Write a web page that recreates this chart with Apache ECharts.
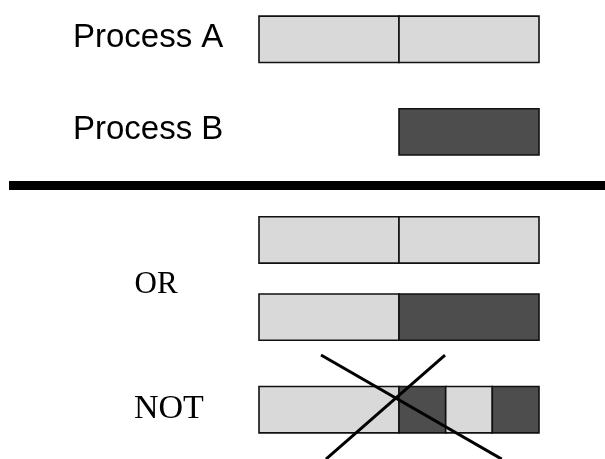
<!DOCTYPE html>
<html>
<head>
<meta charset="utf-8">
<script src="https://cdn.jsdelivr.net/npm/echarts@6/dist/echarts.min.js"></script>
<style>html,body{margin:0;padding:0;background:#fff}#c{width:605px;height:459px}</style>
</head>
<body>
<div id="c"></div>
<script>
// ---- data ----
const rowNames = ['Process A', 'Process B', 'OR top', 'OR bottom', 'NOT'];
const segRow   = [0, 0, 1, 2, 2, 3, 3, 4, 4, 4, 4];
const segStart = [0, 2, 2, 0, 2, 0, 2, 0, 2, 2.667, 3.333];
const segEnd   = [2, 4, 4, 2, 4, 2, 4, 2, 2.667, 3.333, 4];
const segShade = ['light', 'light', 'dark', 'light', 'light', 'light', 'dark', 'light', 'dark', 'light', 'dark'];
const crossLine1 = [[0.886, 20.46], [3.467, 27.2]];
const crossLine2 = [[2.657, 20.46], [0.957, 27.2]];
const labelTexts = ['Process A', 'Process B', 'OR', 'NOT'];

// ---- layout ----
const rowY = [0, 6, 13, 18, 24];
const shadeColor = { light: '#d9d9d9', dark: '#4d4d4d' };

const segData = segRow.map((r, i) => [segStart[i], segEnd[i], rowY[r], segShade[i]]);

const chart = echarts.init(document.getElementById('c'), null, { renderer: 'canvas' });
chart.setOption({
  animation: false,
  grid: { left: 259, right: 66, top: 0.7, bottom: 3 },
  xAxis: { type: 'value', min: 0, max: 4, show: false },
  yAxis: { type: 'value', min: -2.5, max: 27, inverse: true, show: false },
  series: [
    {
      type: 'custom',
      clip: false,
      data: segData,
      renderItem: function (params, api) {
        const s = api.coord([api.value(0), api.value(2)]);
        const e = api.coord([api.value(1), api.value(2)]);
        const h = api.size([0, 3])[1];
        const shade = segData[params.dataIndex][3];
        return {
          type: 'rect',
          shape: { x: s[0], y: s[1] - h / 2, width: e[0] - s[0], height: h },
          style: { fill: shadeColor[shade], stroke: '#111', lineWidth: 1.6 }
        };
      }
    },
    {
      type: 'line', data: crossLine1, symbol: 'none', clip: false,
      lineStyle: { color: '#000', width: 3 }, z: 5
    },
    {
      type: 'line', data: crossLine2, symbol: 'none', clip: false,
      lineStyle: { color: '#000', width: 3 }, z: 5
    }
  ],
  graphic: [
    { type: 'rect', shape: { x: 9, y: 181, width: 600, height: 9 }, style: { fill: '#000' } },
    { type: 'text', x: 73, y: 37.5, style: { text: labelTexts[0], font: '33px "Liberation Sans", Arial, sans-serif', fill: '#000', verticalAlign: 'middle', align: 'left' } },
    { type: 'text', x: 73, y: 129.8, style: { text: labelTexts[1], font: '33px "Liberation Sans", Arial, sans-serif', fill: '#000', verticalAlign: 'middle', align: 'left' } },
    { type: 'text', x: 134.5, y: 284.6, style: { text: labelTexts[2], font: '31px "Liberation Serif", "Times New Roman", serif', fill: '#000', verticalAlign: 'middle', align: 'left' } },
    { type: 'text', x: 134, y: 408.8, style: { text: labelTexts[3], font: '34px "Liberation Serif", "Times New Roman", serif', fill: '#000', verticalAlign: 'middle', align: 'left' } }
  ]
});
</script>
</body>
</html>
